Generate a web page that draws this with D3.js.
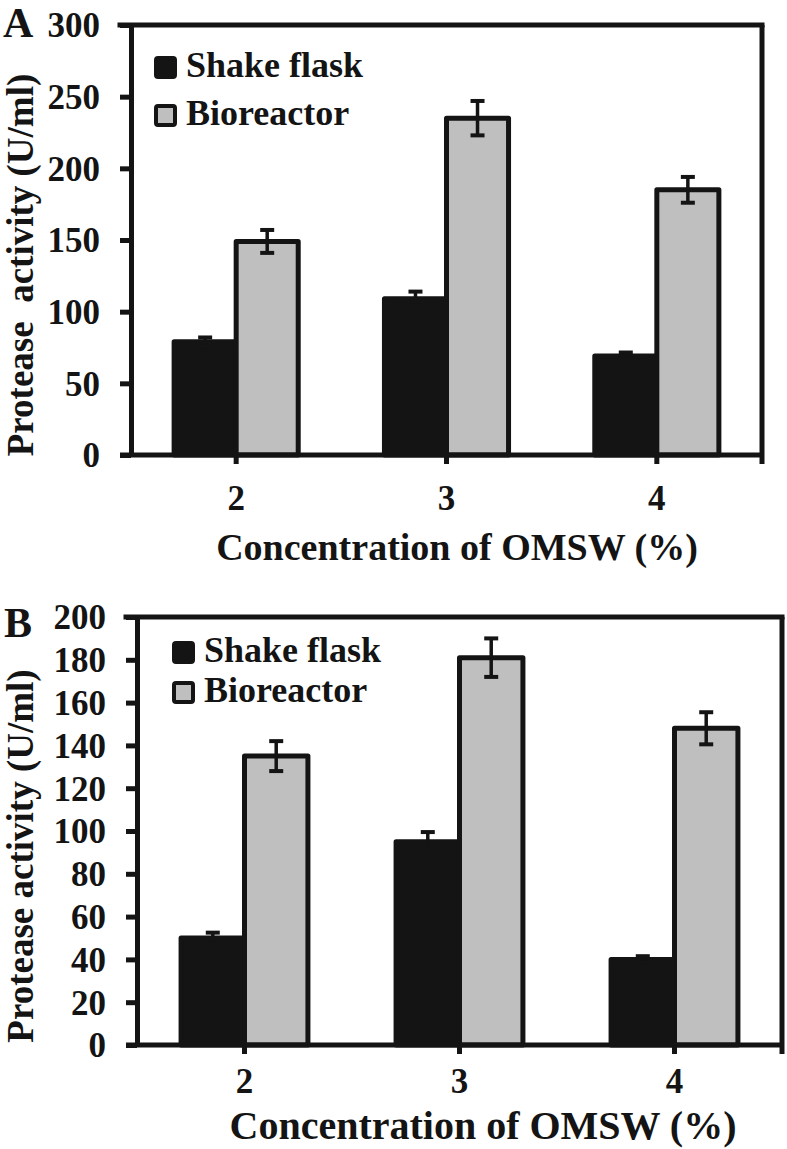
<!DOCTYPE html>
<html><head><meta charset="utf-8">
<script src="https://cdn.jsdelivr.net/npm/d3@7"></script>
<style>
html,body{margin:0;padding:0;background:#fff;}
svg{display:block;}
text{font-family:"Liberation Serif","Times New Roman",serif;font-weight:bold;fill:#141414;}
</style></head>
<body>
<script>
// ---------- data ----------
const categories = ["2", "3", "4"];
const seriesNames = ["Shake flask", "Bioreactor"];

const shakeA = [79, 109, 69];
const shakeErrA = [3, 5, 2.5];
const bioA = [149, 235, 185];
const bioErrA = [8, 12, 9];
const yTicksA = [0, 50, 100, 150, 200, 250, 300];

const shakeB = [50, 95, 40];
const shakeErrB = [2.5, 4.5, 1.5];
const bioB = [135, 181, 148];
const bioErrB = [7, 9, 7.5];
const yTicksB = [0, 20, 40, 60, 80, 100, 120, 140, 160, 180, 200];

const xTitle = "Concentration of OMSW (%)";
const yTitleA = "Protease\u00a0 activity (U/ml)";
const yTitleB = "Protease activity (U/ml)";

const colors = ["#141414", "#bfbfbf"];
const ink = "#141414";

const svg = d3.select("body").append("svg").attr("width", 787).attr("height", 1149);

function panel(o) {
  const g = svg.append("g");
  const y = d3.scaleLinear().domain([0, o.yMax]).range([o.bottom, o.top]);
  const x0 = d3.scaleBand().domain(categories).range([o.left, o.right])
      .paddingInner(0.41).paddingOuter(0.205);
  const x1 = d3.scaleBand().domain(seriesNames).range([0, x0.bandwidth()]);

  // frame: top and right borders
  g.append("line").attr("x1", o.left - 11).attr("x2", o.right).attr("y1", o.top).attr("y2", o.top)
    .attr("stroke", ink).attr("stroke-width", 5).attr("stroke-linecap", "square");
  g.append("line").attr("x1", o.right).attr("x2", o.right).attr("y1", o.top).attr("y2", o.bottom + 9)
    .attr("stroke", ink).attr("stroke-width", 5);

  const data = categories.map((c, i) => ({c, vals: [
    {s: seriesNames[0], v: o.shake[i], e: o.shakeErr[i]},
    {s: seriesNames[1], v: o.bio[i], e: o.bioErr[i]}]}));

  const grp = g.selectAll("g.grp").data(data).join("g")
    .attr("transform", d => `translate(${x0(d.c)},0)`);
  grp.selectAll("rect").data(d => d.vals).join("rect")
    .attr("x", d => x1(d.s)).attr("width", x1.bandwidth())
    .attr("y", d => y(d.v)).attr("height", d => y(0) - y(d.v))
    .attr("fill", (d, i) => colors[i]).attr("stroke", ink).attr("stroke-width", 5)
    .attr("stroke-linejoin", "round");
  // error bars
  const eb = grp.selectAll("g.eb").data(d => d.vals).join("g").attr("class", "eb");
  eb.append("line")
    .attr("x1", d => x1(d.s) + x1.bandwidth() / 2).attr("x2", d => x1(d.s) + x1.bandwidth() / 2)
    .attr("y1", d => y(d.v + d.e)).attr("y2", d => y(d.v - d.e))
    .attr("stroke", ink).attr("stroke-width", 3.5);
  [1, -1].forEach(sg => {
    eb.append("line")
      .attr("x1", d => x1(d.s) + x1.bandwidth() / 2 - 7).attr("x2", d => x1(d.s) + x1.bandwidth() / 2 + 7)
      .attr("y1", d => y(d.v + sg * d.e)).attr("y2", d => y(d.v + sg * d.e))
      .attr("stroke", ink).attr("stroke-width", 4);
  });

  // y axis
  const ya = g.append("g").attr("transform", `translate(${o.left},0)`)
    .call(d3.axisLeft(y).tickValues(o.yTicks).tickSize(11).tickSizeOuter(0).tickPadding(20));
  ya.select(".domain").attr("stroke", ink).attr("stroke-width", 5);
  ya.selectAll(".tick line").attr("stroke", ink).attr("stroke-width", 5);
  ya.selectAll(".tick text").style("font-size", "35px").attr("fill", ink)
    .style("font-family", "Liberation Serif").style("font-weight", "bold").attr("dy", "0.34em");

  // x axis
  const xa = g.append("g").attr("transform", `translate(0,${o.bottom})`)
    .call(d3.axisBottom(x0).tickSize(9).tickSizeOuter(0).tickPadding(o.xPad));
  xa.select(".domain").attr("stroke", ink).attr("stroke-width", 5)
    .attr("d", `M${o.left - 11},0H${o.right}`);
  xa.selectAll(".tick line").attr("stroke", ink).attr("stroke-width", 5);
  xa.selectAll(".tick text").style("font-size", "35px").attr("fill", ink)
    .style("font-family", "Liberation Serif").style("font-weight", "bold");

  // titles
  g.append("text").attr("x", o.xTitleX).attr("y", o.xTitleY)
    .attr("text-anchor", "middle").style("font-size", o.xTitleSize + "px").text(xTitle);
  g.append("text").attr("transform", `translate(${o.yTitleX},${(o.top + o.bottom) / 2 + o.yTitleDy}) rotate(-90)`)
    .attr("text-anchor", "middle").style("font-size", "37px").text(o.yTitle);
  g.append("text").attr("x", o.letterX).attr("y", o.letterY).style("font-size", "42px").text(o.letter);

  // legend
  seriesNames.forEach((s, i) => {
    const ly = o.legY + i * o.legGap;
    g.append("rect").attr("x", o.legX).attr("y", ly - 19).attr("width", 19).attr("height", 19)
      .attr("fill", colors[i]).attr("stroke", ink).attr("stroke-width", 4).attr("rx", 2);
    g.append("text").attr("x", o.legX + 30).attr("y", ly).style("font-size", "36px").text(s);
  });
}

panel({left: 131, right: 762, top: 25, bottom: 455, yMax: 300, yTicks: yTicksA,
  shake: shakeA, shakeErr: shakeErrA, bio: bioA, bioErr: bioErrA, xPad: 21,
  xTitleX: 457, xTitleY: 560, xTitleSize: 38, yTitle: yTitleA, yTitleX: 33, yTitleDy: 25,
  letter: "A", letterX: 3, letterY: 37, legX: 156, legY: 77, legGap: 48});

panel({left: 137, right: 782, top: 617, bottom: 1045, yMax: 200, yTicks: yTicksB,
  shake: shakeB, shakeErr: shakeErrB, bio: bioB, bioErr: bioErrB, xPad: 14,
  xTitleX: 483, xTitleY: 1139, xTitleSize: 40, yTitle: yTitleB, yTitleX: 33, yTitleDy: 25,
  letter: "B", letterX: 4, letterY: 637, legX: 174, legY: 662, legGap: 40});
</script>
</body></html>
